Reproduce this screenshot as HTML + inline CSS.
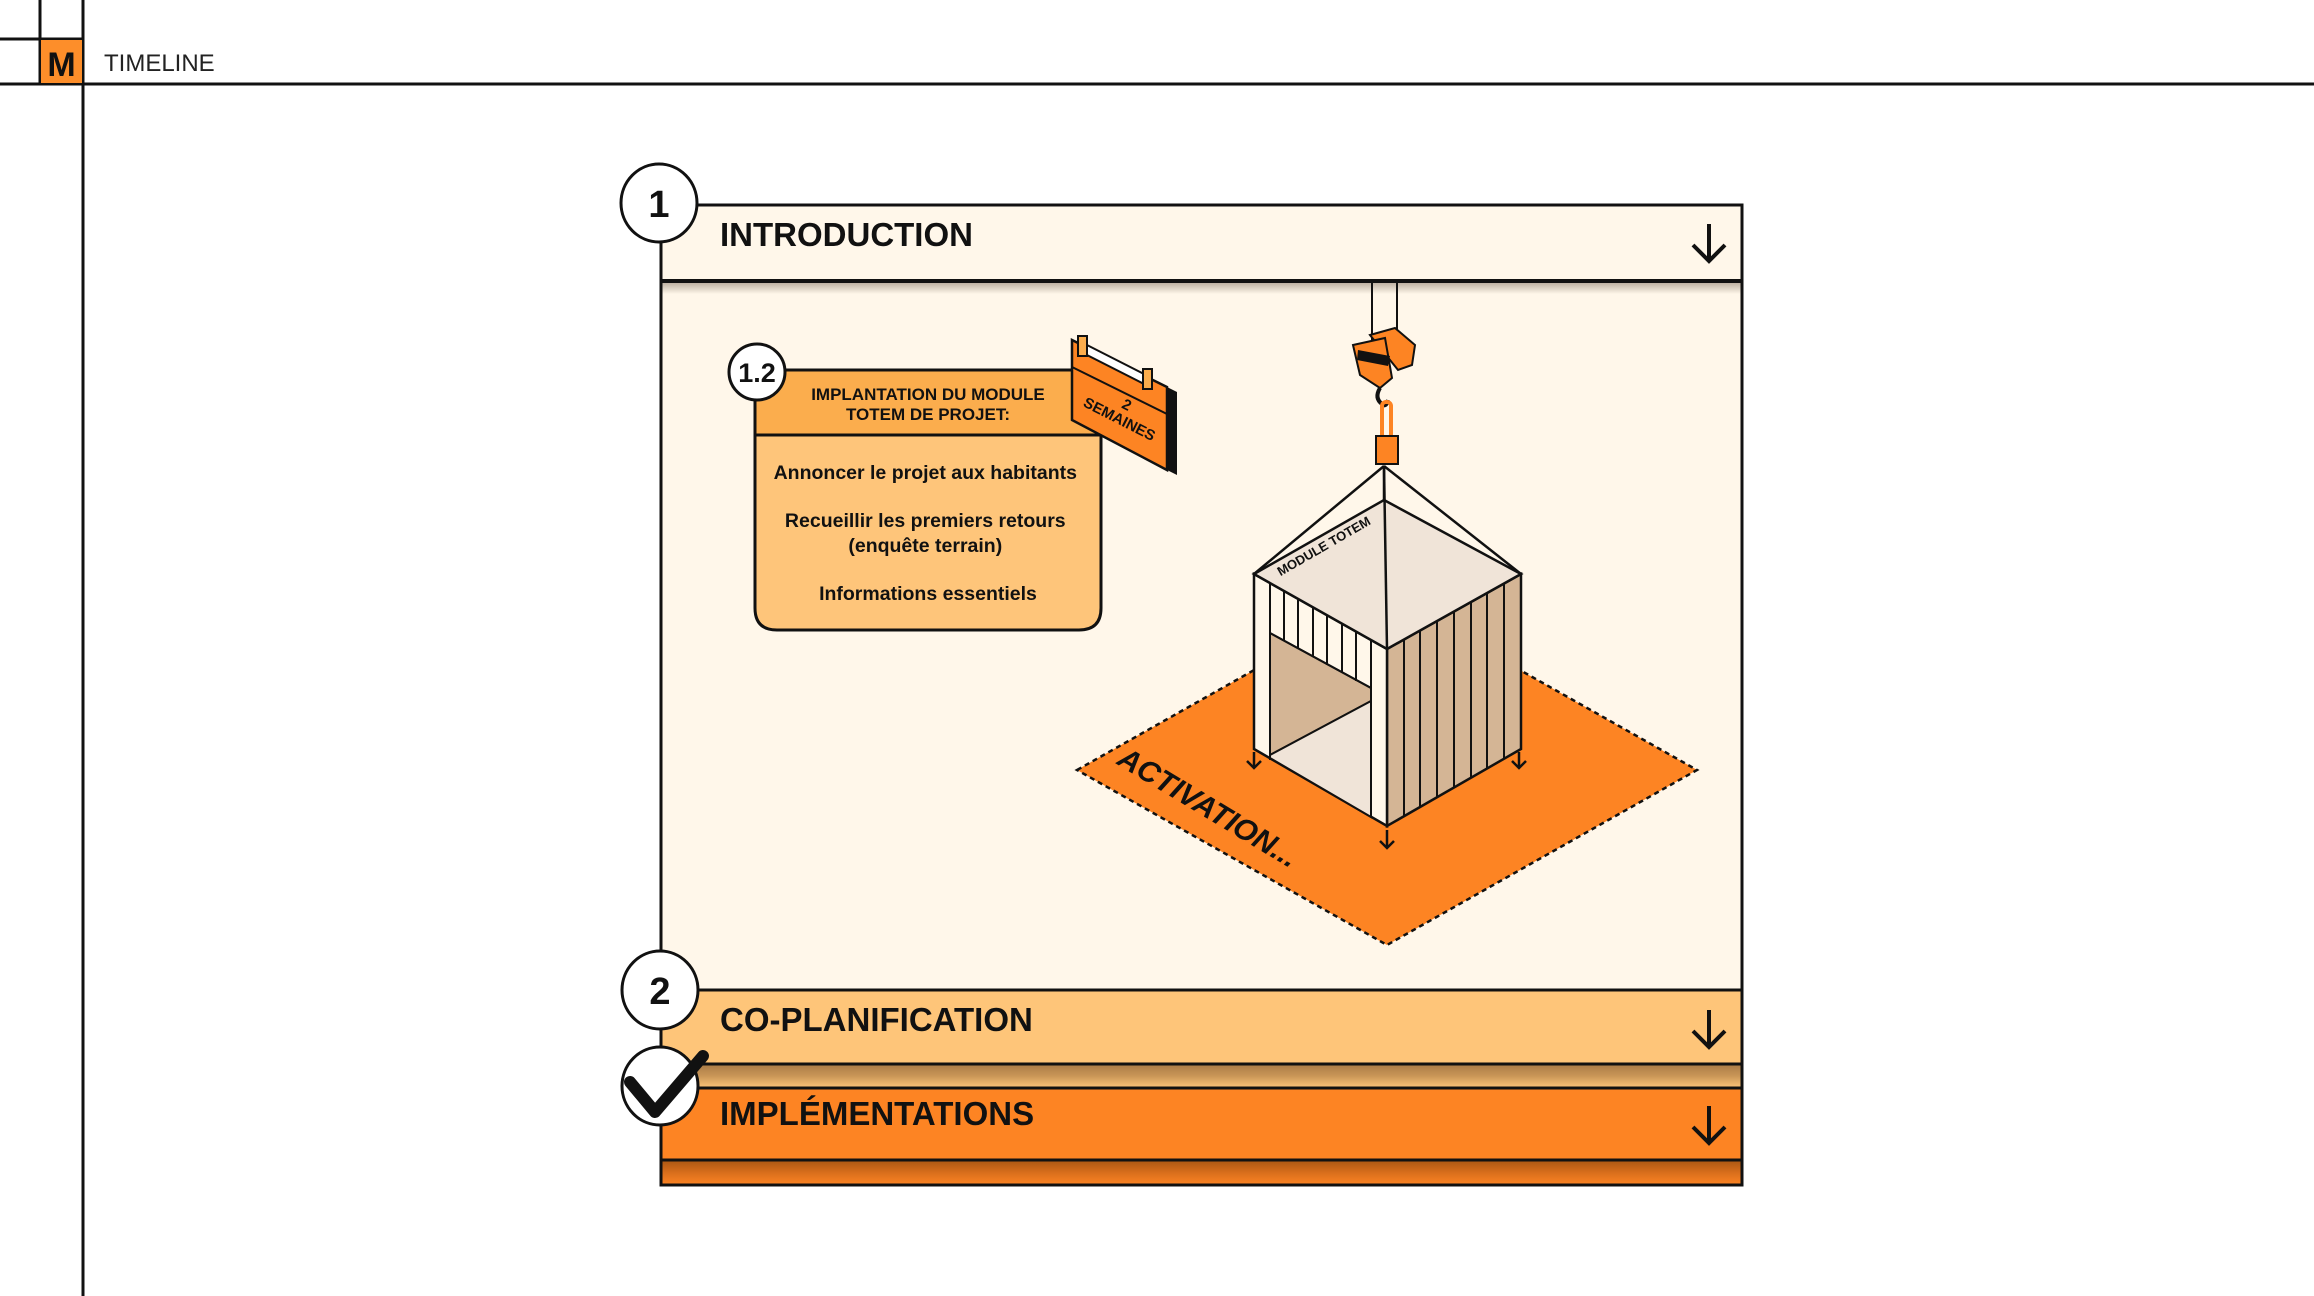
<!DOCTYPE html>
<html><head><meta charset="utf-8"><style>
html,body{margin:0;padding:0;background:#fff;}
svg{display:block;}
text{font-family:"Liberation Sans",sans-serif;}
</style></head><body>
<svg width="2314" height="1296" viewBox="0 0 2314 1296" xmlns="http://www.w3.org/2000/svg">
<defs>
<linearGradient id="sh" x1="0" y1="0" x2="0" y2="1">
<stop offset="0" stop-color="#b8ab9c"/><stop offset="1" stop-color="#fff7ea"/></linearGradient>
<linearGradient id="sh2" x1="0" y1="0" x2="0" y2="1">
<stop offset="0" stop-color="#a97a45"/><stop offset="0.5" stop-color="#c99657"/><stop offset="1" stop-color="#fec579"/></linearGradient>
<linearGradient id="sh3" x1="0" y1="0" x2="0" y2="1">
<stop offset="0" stop-color="#a85612"/><stop offset="0.5" stop-color="#d86e1c"/><stop offset="1" stop-color="#fd8423"/></linearGradient>
</defs>
<line x1="40" y1="0" x2="40" y2="84" stroke="#111" stroke-width="3"/>
<line x1="83" y1="0" x2="83" y2="1296" stroke="#111" stroke-width="3"/>
<line x1="0" y1="39" x2="83" y2="39" stroke="#111" stroke-width="3"/>
<line x1="0" y1="84" x2="2314" y2="84" stroke="#111" stroke-width="3"/>
<rect x="41" y="40" width="41" height="43" fill="#fd8e2a"/>
<text x="61.5" y="76" font-size="34" font-weight="bold" text-anchor="middle" fill="#111">M</text>
<text x="104" y="71" font-size="24" fill="#222">TIMELINE</text>

<rect x="661" y="205" width="1081" height="785" fill="#fff7ea"/>
<rect x="661" y="282" width="1081" height="12" fill="url(#sh)"/>
<line x1="661" y1="281" x2="1742" y2="281" stroke="#111" stroke-width="4"/>
<rect x="661" y="990" width="1081" height="74" fill="#fec579"/>
<rect x="661" y="1064" width="1081" height="24" fill="url(#sh2)"/>
<rect x="661" y="1088" width="1081" height="72" fill="#fd8423"/>
<rect x="661" y="1160" width="1081" height="25" fill="url(#sh3)"/>
<line x1="661" y1="990" x2="1742" y2="990" stroke="#111" stroke-width="3"/>
<line x1="661" y1="1064" x2="1742" y2="1064" stroke="#111" stroke-width="3"/>
<line x1="661" y1="1088" x2="1742" y2="1088" stroke="#111" stroke-width="3"/>
<line x1="661" y1="1160" x2="1742" y2="1160" stroke="#111" stroke-width="3"/>
<rect x="661" y="205" width="1081" height="980" fill="none" stroke="#111" stroke-width="3"/>

<text x="720" y="246" font-size="33" font-weight="bold" fill="#111">INTRODUCTION</text>
<text x="720" y="1031" font-size="33" font-weight="bold" fill="#111">CO-PLANIFICATION</text>
<text x="720" y="1125" font-size="33" font-weight="bold" fill="#111">IMPLÉMENTATIONS</text>
<g stroke="#111" stroke-width="4" fill="none">
<path d="M1709 224 V260 M1693 245 L1709 261 L1725 245"/>
<path d="M1709 1010 V1046 M1693 1031 L1709 1047 L1725 1031"/>
<path d="M1709 1106 V1142 M1693 1127 L1709 1143 L1725 1127"/>
</g>

<ellipse cx="659" cy="203" rx="38" ry="39" fill="#fff" stroke="#111" stroke-width="3"/>
<text x="659" y="217" font-size="38" font-weight="bold" text-anchor="middle" fill="#111">1</text>
<ellipse cx="660" cy="990" rx="38" ry="39" fill="#fff" stroke="#111" stroke-width="3"/>
<text x="660" y="1004" font-size="38" font-weight="bold" text-anchor="middle" fill="#111">2</text>
<ellipse cx="660" cy="1086" rx="38" ry="39" fill="#fff" stroke="#111" stroke-width="3"/>
<path d="M630 1082 L655 1112 L703 1056" stroke="#111" stroke-width="12" fill="none" stroke-linecap="round" stroke-linejoin="round"/>

<path d="M755 435 H1101 V608 Q1101 630 1079 630 H777 Q755 630 755 608 Z" fill="#fec57a" stroke="#111" stroke-width="3"/>
<rect x="755" y="370" width="346" height="65" fill="#fbad4d" stroke="#111" stroke-width="3"/>
<text font-size="17" font-weight="bold" text-anchor="middle" fill="#111"><tspan x="928" y="400">IMPLANTATION DU MODULE</tspan><tspan x="928" y="420">TOTEM DE PROJET:</tspan></text>
<text font-size="19.5" font-weight="bold" text-anchor="middle" fill="#111">
<tspan x="928" y="479">Annoncer le projet aux habitants</tspan>
<tspan x="928" y="527">Recueillir les premiers retours</tspan>
<tspan x="928" y="552">(enquête terrain)</tspan>
<tspan x="928" y="600">Informations essentiels</tspan></text>
<circle cx="757" cy="372" r="28" fill="#fff" stroke="#111" stroke-width="3"/>
<text x="757" y="382" font-size="27" font-weight="bold" text-anchor="middle" fill="#111">1.2</text>

<polygon points="1167,387 1177,392 1177,475 1167,470" fill="#111"/>
<polygon points="1072,340 1167,387 1167,470 1072,420" fill="#fd8423" stroke="#111" stroke-width="2.5"/>
<line x1="1072" y1="367" x2="1167" y2="414" stroke="#111" stroke-width="2"/>
<polygon points="1083,343 1150,377 1150,387 1083,353" fill="#fff" stroke="#111" stroke-width="2"/>
<rect x="1078" y="336" width="9" height="20" fill="#fbad4d" stroke="#111" stroke-width="2"/>
<rect x="1143" y="369" width="9" height="20" fill="#fbad4d" stroke="#111" stroke-width="2"/>
<g transform="translate(1119,420) rotate(27)"><text x="0" y="-12" font-size="15" font-weight="bold" text-anchor="middle" fill="#111">2</text><text x="0" y="4" font-size="15" font-weight="bold" text-anchor="middle" fill="#111">SEMAINES</text></g>

<polygon points="1077,770 1387,595 1697,770 1387,945" fill="#fd8423" stroke="#111" stroke-width="2.5" stroke-dasharray="5,4"/>
<text transform="translate(1203,816) rotate(31)" font-size="30" font-weight="bold" font-style="italic" text-anchor="middle" fill="#111">ACTIVATION...</text>

<polygon points="1387,649 1521,574 1521,749 1387,826" fill="#d4b595" stroke="#111" stroke-width="2.5"/>
<g stroke="#111" stroke-width="2">
<line x1="1404" y1="640" x2="1404" y2="816"/><line x1="1420" y1="631" x2="1420" y2="807"/>
<line x1="1437" y1="621" x2="1437" y2="797"/><line x1="1454" y1="612" x2="1454" y2="788"/>
<line x1="1471" y1="602" x2="1471" y2="778"/><line x1="1487" y1="593" x2="1487" y2="769"/>
<line x1="1504" y1="583" x2="1504" y2="759"/></g>
<polygon points="1254,574 1387,649 1387,826 1254,749" fill="#fff7ea" stroke="#111" stroke-width="2.5"/>
<polygon points="1270,633 1371,688 1371,701 1270,755" fill="#d4b595" stroke="#111" stroke-width="2"/>
<polygon points="1270,755 1371,701 1371,817 1270,758" fill="#f0e4d8" stroke="#111" stroke-width="2"/>
<g stroke="#111" stroke-width="2">
<line x1="1270" y1="583" x2="1270" y2="760"/><line x1="1371" y1="640" x2="1371" y2="817"/>
<line x1="1270" y1="633" x2="1371" y2="688"/>
<line x1="1284" y1="591" x2="1284" y2="641"/><line x1="1298" y1="599" x2="1298" y2="649"/>
<line x1="1313" y1="607" x2="1313" y2="657"/><line x1="1327" y1="615" x2="1327" y2="665"/>
<line x1="1342" y1="623" x2="1342" y2="673"/><line x1="1356" y1="631" x2="1356" y2="681"/></g>
<polygon points="1384,500 1521,574 1387,649 1254,574" fill="#f0e4d8" stroke="#111" stroke-width="2.5"/>
<text transform="translate(1326,550) rotate(-30)" font-size="13" font-weight="bold" text-anchor="middle" fill="#111">MODULE TOTEM</text>
<g stroke="#111" stroke-width="2.5" fill="none">
<line x1="1384" y1="466" x2="1254" y2="574"/><line x1="1384" y1="466" x2="1521" y2="574"/>
<line x1="1384" y1="466" x2="1387" y2="649"/><line x1="1384" y1="466" x2="1384" y2="500"/>
</g>
<g stroke="#111" stroke-width="2.5" fill="none">
<path d="M1254 752 V768 M1247 761 L1254 768 L1261 761"/>
<path d="M1519 752 V768 M1512 761 L1519 768 L1526 761"/>
<path d="M1387 830 V848 M1380 841 L1387 848 L1394 841"/>
</g>

<line x1="1372" y1="282" x2="1372" y2="340" stroke="#111" stroke-width="2"/>
<line x1="1397" y1="282" x2="1397" y2="340" stroke="#111" stroke-width="2"/>
<polygon points="1370,335 1395,328 1415,345 1412,365 1398,370" fill="#fd8423" stroke="#111" stroke-width="2"/>
<polygon points="1353,345 1385,338 1392,378 1380,388 1360,375" fill="#fd8423" stroke="#111" stroke-width="2"/>
<path d="M1358 350 L1390 356 L1388 366 L1357 360 Z" fill="#111"/>
<path d="M1380 388 q-6 10 2 16 q4 4 6 -4" fill="none" stroke="#111" stroke-width="4"/>
<rect x="1382" y="402" width="9" height="36" rx="4" fill="none" stroke="#fd8423" stroke-width="4"/>
<rect x="1376" y="436" width="22" height="28" fill="#fd8423" stroke="#111" stroke-width="2"/>
</svg>
</body></html>
